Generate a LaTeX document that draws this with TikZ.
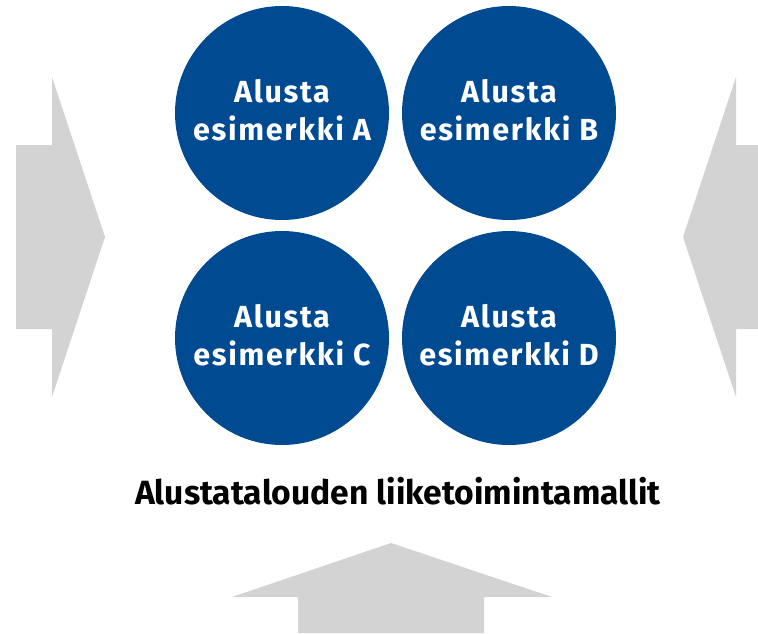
\documentclass[tikz,border=0pt]{standalone}
\usepackage{fontspec}
\setmainfont{Fira Sans}
\usepackage{xcolor}
\definecolor{platformblue}{RGB}{0,74,145}
\definecolor{arrowgray}{RGB}{211,211,211}

\begin{document}
\begin{tikzpicture}[x=1pt, y=-1pt,
platform/.style={circle, fill=platformblue, text=white, minimum size=214pt, inner sep=0pt,
	align=center, text depth=6pt, font=\fontsize{30.5}{38}\selectfont\bfseries\addfontfeature{LetterSpace=5.5}},
bigarrow/.style={fill=arrowgray}]
\useasboundingbox (0,0) rectangle (758,633);
\coordinate (platform a) at (282,113);
\coordinate (platform b) at (509,113);
\coordinate (platform c) at (282,338);
\coordinate (platform d) at (509,338);
\coordinate (title) at (398,491);

% arrows pointing in
\fill[bigarrow] (16,145) -- (52,145) -- (52,77) -- (105,237) -- (52,397) -- (52,329) -- (16,329) -- cycle;
\fill[bigarrow] (758,145) -- (736,145) -- (736,77) -- (683,237) -- (736,397) -- (736,329) -- (758,329) -- cycle;
\fill[bigarrow] (298,633) -- (298,597) -- (232,597) -- (391,543) -- (552,597) -- (484,597) -- (484,633) -- cycle;

\draw (platform a) node[platform] (a) {Alusta\\esimerkki A};
\draw (platform b) node[platform] (b) {Alusta\\esimerkki B};
\draw (platform c) node[platform] (c) {Alusta\\esimerkki C};
\draw (platform d) node[platform] (d) {Alusta\\esimerkki D};

\draw (title) node[font=\fontsize{33.6}{40}\selectfont\bfseries] (models) {Alustatalouden liiketoimintamallit};
\end{tikzpicture}
\end{document}
